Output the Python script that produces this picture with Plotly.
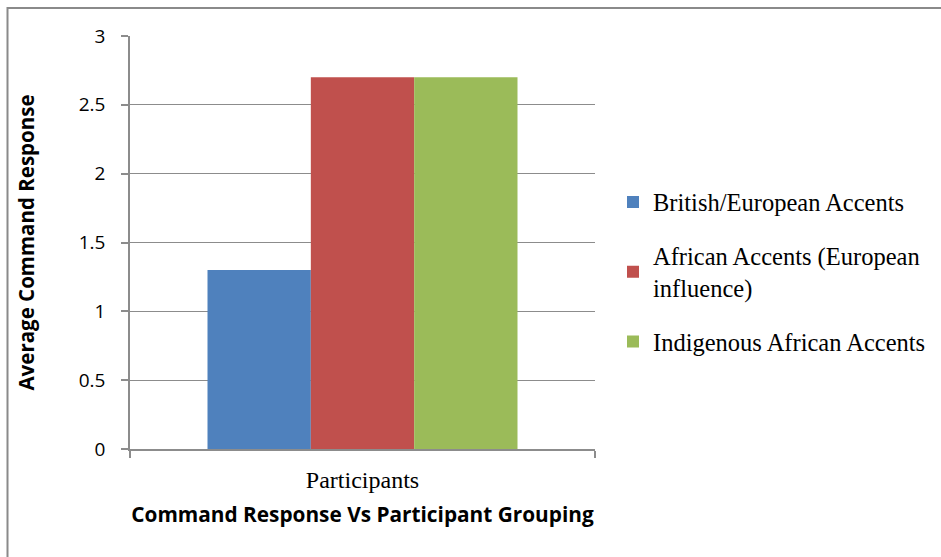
import plotly.graph_objects as go

# Average command response per accent group, single "Participants" category
categories = ["Participants"]
series_names = [
    "British/European Accents",
    "African Accents (European<br>influence)",
    "Indigenous African Accents",
]
series_values = [
    [1.3],
    [2.7],
    [2.7],
]
series_colors = ["#4F81BD", "#C0504D", "#9BBB59"]
y_ticks = [0, 0.5, 1, 1.5, 2, 2.5, 3]
y_tick_labels = ["0", "0.5", "1", "1.5", "2", "2.5", "3"]

W, H = 941, 557
L, R, T, B = 130, 346, 36, 108
plot_w = W - L - R
plot_h = H - T - B

fig = go.Figure()
for i, (name, vals, col) in enumerate(zip(series_names, series_values, series_colors)):
    fig.add_trace(go.Bar(
        x=categories, y=vals, name=name,
        marker=dict(color=col, line=dict(width=0)),
        legendgroup=f"g{i}",
    ))

grid_col = "#8C8C8C"
fig.update_layout(
    width=W, height=H,
    margin=dict(l=L, r=R, t=T, b=B, autoexpand=False),
    paper_bgcolor="white", plot_bgcolor="white",
    barmode="group", bargap=1/3, bargroupgap=0,
    showlegend=True,
    legend=dict(
        x=(613 - L) / plot_w, xanchor="left",
        y=(449 - 272) / plot_h, yanchor="middle",
        font=dict(family="Liberation Serif", size=24.5, color="#000000"),
        traceorder="grouped", tracegroupgap=19,
        itemwidth=30, bgcolor="rgba(0,0,0,0)",
    ),
    xaxis=dict(
        showline=True, linecolor=grid_col, linewidth=1.5,
        ticks="outside", tickson="boundaries", ticklen=7, tickcolor=grid_col,
        tickwidth=1.5, ticklabelstandoff=8,
        tickfont=dict(family="Liberation Serif", size=24, color="#000000"),
        title=dict(text="<b>Command Response Vs Participant Grouping</b>",
                   font=dict(family="Open Sans", size=20.8, color="#000000"),
                   standoff=16),
        showgrid=False,
    ),
    yaxis=dict(
        range=[0, 3], tickvals=y_ticks, ticktext=y_tick_labels,
        showline=True, linecolor=grid_col, linewidth=1.5,
        ticks="outside", ticklen=7, tickcolor=grid_col, tickwidth=1.5,
        ticklabelstandoff=12,
        showgrid=True, gridcolor=grid_col, gridwidth=1,
        zeroline=False,
        tickfont=dict(family="Open Sans", size=19, color="#000000"),
        title=dict(text="<b>Average Command Response</b>",
                   font=dict(family="Open Sans", size=20.5, color="#000000"),
                   standoff=39),
    ),
)

# Outer chart frame
fig.add_shape(
    type="rect", xref="paper", yref="paper",
    x0=(7.5 - L) / plot_w, x1=(W + 20 - L) / plot_w,
    y0=-(B + 20) / plot_h, y1=(449 - 8) / plot_h,
    line=dict(color="#8A8A8A", width=2), fillcolor="rgba(0,0,0,0)",
    layer="below",
)

fig.write_html("out.html")
